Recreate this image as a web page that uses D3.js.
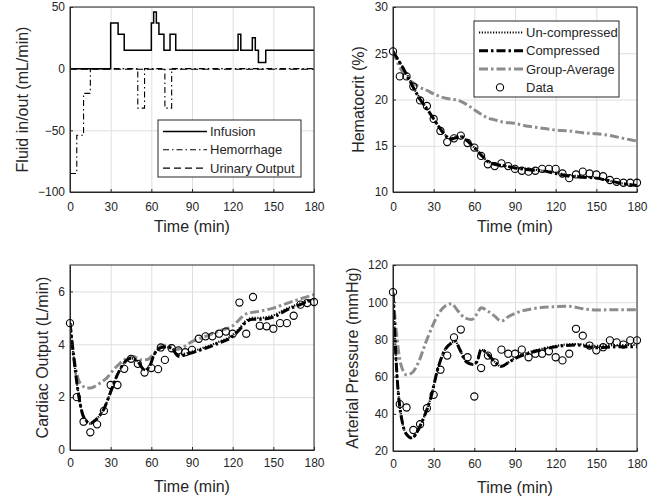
<!DOCTYPE html>
<html><head><meta charset="utf-8">
<script src="https://cdn.jsdelivr.net/npm/d3@7"></script>
<style>
body{margin:0;background:#fff}
text{font-family:"Liberation Sans",Arial,Helvetica,sans-serif;fill:#262626}
</style>
</head><body>
<svg id="c" width="670" height="504"></svg>
<script>
// ---------- DATA ----------
const timeTicks = [0,30,60,90,120,150,180];

// Panel 1: fluid in/out (step functions)
const infusionT = [0,30,35.5,40,60,61.7,63.7,65.6,69.3,73.8,78,124,126,134.5,136.7,139,144.4,180];
const infusionV = [0,37,28,15,37,46,37,28,15,28,15,28,15,25,15,5,15,15];
const hemorrhageT = [0,5,10,15,50,55,70,75,180];
const hemorrhageV = [-85,-54,-20,0,-32,0,-32,0,0];
const urineT = [0,180];
const urineV = [-0.5,-0.5];

// Panel 2: hematocrit
const hctDataT = [0,5,10,15,20,25,30,35,40,45,50,55,60,65,70,75,80,85,90,95,100,105,110,115,120,125,130,135,140,145,150,155,160,165,170,175,180];
const hctData  = [25.2,22.5,22.5,21.4,19.9,19.3,17.9,16.6,15.4,15.8,16.1,15.3,14.8,13.9,13.0,12.8,13.1,12.8,12.5,12.3,12.2,12.3,12.5,12.5,12.5,12.0,11.5,11.9,12.2,12.0,11.9,11.7,11.3,11.1,11.0,11.0,11.0];
const hctModelT = [0,5,10,15,20,25,30,35,40,42,45,50,55,60,65,70,75,80,90,100,110,120,130,140,150,160,170,180];
const hctCompressed   = [25.2,24.0,22.7,21.3,20.0,19.0,17.9,16.8,15.9,15.7,15.8,16.0,15.5,14.8,14.0,13.3,13.0,12.9,12.6,12.4,12.3,12.0,11.7,11.6,11.5,11.2,10.9,10.7];
const hctUncompressed = [25.2,24.0,22.8,21.3,20.1,19.0,17.9,16.8,16.0,15.8,15.9,16.0,15.5,14.8,14.0,13.3,13.0,12.9,12.6,12.5,12.3,12.1,11.8,11.7,11.5,11.2,10.9,10.7];
const hctGroupT = [0,5,10,15,20,25,30,35,40,45,50,55,60,65,70,75,80,90,100,110,120,130,140,150,160,170,180];
const hctGroup  = [25.2,23.5,22.4,21.8,21.3,21.0,20.6,20.3,20.1,20.0,19.8,19.4,18.9,18.4,18.0,17.8,17.6,17.4,17.1,16.9,16.7,16.6,16.4,16.3,16.1,15.8,15.5];

// Panel 3: cardiac output
const coDataT = [0,5,10,15,20,25,30,35,40,45,50,55,60,65,67,70,75,80,85,90,95,100,105,110,115,120,125,130,135,140,145,150,155,160,165,170,175,180];
const coData  = [4.8,2.0,1.07,0.67,0.97,1.48,2.46,2.46,3.07,3.45,3.26,2.93,3.1,3.06,3.88,3.41,3.85,3.77,3.7,3.79,4.21,4.3,4.3,4.4,4.48,4.4,5.58,4.4,5.79,4.7,4.68,4.59,4.8,4.8,5.08,5.5,5.56,5.6];
const coModelT = [0,3,6,9,12,15,18,21,25,30,35,40,45,50,55,58,62,66,70,75,80,85,90,100,110,120,125,130,135,140,150,160,170,180];
const coCompressed   = [4.8,3.4,2.2,1.4,1.1,1.0,1.1,1.25,1.55,2.2,2.85,3.3,3.47,3.35,3.03,3.1,3.6,3.85,3.9,3.85,3.55,3.6,3.68,3.85,4.05,4.3,4.55,4.85,4.95,4.95,5.03,5.3,5.5,5.7];
const coUncompressed = [4.8,3.4,2.2,1.4,1.1,1.0,1.1,1.25,1.55,2.2,2.85,3.3,3.47,3.35,3.03,3.1,3.6,3.85,3.9,3.85,3.6,3.65,3.72,3.9,4.1,4.35,4.6,4.9,5.0,5.0,5.1,5.35,5.55,5.7];
const coGroupT = [0,3,6,9,12,15,18,22,27,32,37,42,47,52,57,62,67,72,77,82,90,100,110,120,130,140,150,160,170,180];
const coGroup  = [4.8,3.5,2.7,2.45,2.35,2.35,2.4,2.53,2.72,3.03,3.29,3.47,3.54,3.41,3.42,3.66,3.92,3.98,3.79,3.85,4.1,4.3,4.5,4.7,5.15,5.25,5.37,5.55,5.72,5.88];

// Panel 4: arterial pressure
const apDataT = [0,5,10,15,20,25,30,35,40,45,50,55,60,65,70,75,80,85,90,95,100,105,110,115,120,125,130,135,140,145,150,155,160,165,170,175,180];
const apData  = [105.4,45.2,43.4,31.3,34.4,43.0,50.2,63.7,71.3,81.1,85.3,70.4,49.3,64.6,71.3,67.7,74.5,72.3,72.3,74.5,70.4,72.3,72.3,73.6,70.4,68.7,72.3,85.7,82.0,76.7,74.1,75.8,79.5,78.4,77.2,79.5,79.5];
const apModelT = [0,3,7,10,14,18,23,28,33,38,43,46,49,54,59,62,65,70,75,80,85,91,100,110,120,135,150,165,180];
const apCompressed   = [105,60,35,29,27,30.5,38.5,49,64,74,78,79,75,68,66.5,68,74.5,72,68,65.5,67.5,70,72.5,74.5,76,77,75.5,76,76];
const apUncompressed = [105,60,35,29,27,30.5,38.5,49,64,74,78,79,75,68,66.5,68,74.5,72,68,65.5,67.5,70.5,73,75,76.5,77.5,76.5,77,77];
const apGroupT = [0,3,6,10,14,19,24,29,34,39,43,48,53,58,62,65,70,75,80,85,91,103,118,130,140,150,165,180];
const apGroup  = [105,80,66,61,62,68,78,87,94.3,98.2,99.2,95.2,91.6,90.7,93.7,97,95.2,92.5,89.8,92.2,94.3,96.5,97.5,97.8,96.5,95.8,96,96];

// ---------- DRAW ----------
const svg = d3.select("#c");
const AX = "#262626", GRID = "#dedede", GRAY = "#8c8c8c";
const fmt = d3.format("d");

function panel(o){
  const xs = d3.scaleLinear().domain([0,180]).range([o.x0,o.x1]);
  const ys = d3.scaleLinear().domain(o.yDomain).range([o.y1,o.y0]);
  const g = svg.append("g");
  // grid
  g.append("g").attr("transform",`translate(0,${o.y1})`)
    .call(d3.axisBottom(xs).tickValues(timeTicks).tickSize(-(o.y1-o.y0)).tickFormat(""))
    .call(s=>{s.select(".domain").remove(); s.selectAll("line").attr("stroke",GRID);});
  g.append("g").attr("transform",`translate(${o.x0},0)`)
    .call(d3.axisLeft(ys).tickValues(o.yTicks).tickSize(-(o.x1-o.x0)).tickFormat(""))
    .call(s=>{s.select(".domain").remove(); s.selectAll("line").attr("stroke",GRID);});
  const id = "clip"+o.id;
  svg.append("clipPath").attr("id",id).append("rect")
    .attr("x",o.x0).attr("y",o.y0).attr("width",o.x1-o.x0).attr("height",o.y1-o.y0);
  const plot = g.append("g").attr("clip-path",`url(#${id})`);
  const top = g.append("g");
  // axes
  const xa = top.append("g").attr("transform",`translate(0,${o.y1})`)
    .call(d3.axisBottom(xs).tickValues(timeTicks).tickFormat(fmt).tickSizeInner(-3).tickSizeOuter(0).tickPadding(o.xPad));
  const ya = top.append("g").attr("transform",`translate(${o.x0},0)`)
    .call(d3.axisLeft(ys).tickValues(o.yTicks).tickFormat(fmt).tickSizeInner(-3).tickSizeOuter(0).tickPadding(5));
  [xa,ya].forEach(a=>{a.selectAll("text").style("font-size","12px").attr("fill",AX);
    a.selectAll("line,path").attr("stroke",AX);});
  // box
  top.append("rect").attr("x",o.x0).attr("y",o.y0).attr("width",o.x1-o.x0).attr("height",o.y1-o.y0)
    .attr("fill","none").attr("stroke",AX).attr("stroke-width",1);
  top.append("text").attr("x",(o.x0+o.x1)/2).attr("y",o.y1+o.titleY).attr("text-anchor","middle")
    .style("font-size","16px").text("Time (min)");
  top.append("text").attr("transform",`translate(${o.x0-o.ylabOff},${(o.y0+o.y1)/2}) rotate(-90)`)
    .attr("text-anchor","middle").attr("dy","0.35em").style("font-size","16px").text(o.ylabel);
  return {xs,ys,plot,top};
}

function drawLine(p, T, V, style, curve){
  const data = T.map((t,i)=>[t,V[i]]);
  const line = d3.line().x(d=>p.xs(d[0])).y(d=>p.ys(d[1])).curve(curve||d3.curveMonotoneX);
  p.plot.append("path").datum(data).attr("d",line).attr("fill","none")
    .attr("stroke",style.color).attr("stroke-width",style.w)
    .attr("stroke-dasharray",style.dash||null).attr("stroke-linecap",style.cap||"butt");
}
function drawPoints(p, T, V){
  p.top.append("g").selectAll("circle").data(T.map((t,i)=>[t,V[i]])).join("circle")
    .attr("cx",d=>p.xs(d[0])).attr("cy",d=>p.ys(d[1])).attr("r",3.6)
    .attr("fill","none").attr("stroke","#000").attr("stroke-width",1.1);
}

const sUn   = {color:"#000", w:2.2, dash:"1.2,1.6"};
const sComp = {color:"#000", w:3, dash:"9,3,2.5,3"};
const sGrp  = {color:GRAY, w:3, dash:"9,3,2.5,3"};
const sInf  = {color:"#000", w:1.5};
const sHem  = {color:"#000", w:1.1, dash:"6,3,1.5,3"};
const sUri  = {color:"#000", w:1.1, dash:"7,4"};

// Panel 1
const p1 = panel({id:1,x0:70,x1:314,y0:7,y1:192,yDomain:[-100,50],yTicks:[-100,-50,0,50],
  ylabel:"Fluid in/out (mL/min)",ylabOff:48,xPad:10,titleY:40});
drawLine(p1, urineT, urineV, sUri, d3.curveStepAfter);
drawLine(p1, hemorrhageT, hemorrhageV, sHem, d3.curveStepAfter);
drawLine(p1, infusionT, infusionV, sInf, d3.curveStepAfter);

// Panel 2
const p2 = panel({id:2,x0:393,x1:637,y0:7,y1:192,yDomain:[10,30],yTicks:[10,15,20,25,30],
  ylabel:"Hematocrit (%)",ylabOff:35,xPad:10,titleY:40});
drawLine(p2, hctGroupT, hctGroup, sGrp);
drawLine(p2, hctModelT, hctCompressed, sComp);
drawLine(p2, hctModelT, hctUncompressed, sUn);
drawPoints(p2, hctDataT, hctData);

// Panel 3
const p3 = panel({id:3,x0:70,x1:314,y0:265,y1:450,yDomain:[0,7],yTicks:[0,2,4,6],
  ylabel:"Cardiac Output (L/min)",ylabOff:28,xPad:8,titleY:42});
drawLine(p3, coGroupT, coGroup, sGrp);
drawLine(p3, coModelT, coCompressed, sComp);
drawLine(p3, coModelT, coUncompressed, sUn);
drawPoints(p3, coDataT, coData);

// Panel 4
const p4 = panel({id:4,x0:393,x1:637,y0:265,y1:451,yDomain:[20,120],yTicks:[20,40,60,80,100,120],
  ylabel:"Arterial Pressure (mmHg)",ylabOff:41,xPad:8,titleY:42});
drawLine(p4, apGroupT, apGroup, sGrp);
drawLine(p4, apModelT, apCompressed, sComp);
drawLine(p4, apModelT, apUncompressed, sUn);
drawPoints(p4, apDataT, apData);

// Legends
function legend(x,y,w,h,items){
  const g = svg.append("g");
  g.append("rect").attr("x",x).attr("y",y).attr("width",w).attr("height",h)
    .attr("fill","#fff").attr("stroke",AX).attr("stroke-width",1);
  items.forEach((it,i)=>{
    const cy = y+11.5+i*18.3;
    if(it.marker){
      g.append("circle").attr("cx",x+26).attr("cy",cy).attr("r",3.6).attr("fill","none")
        .attr("stroke","#000").attr("stroke-width",1.1);
    } else {
      g.append("line").attr("x1",x+5).attr("x2",x+49).attr("y1",cy).attr("y2",cy)
        .attr("stroke",it.s.color).attr("stroke-width",it.s.w).attr("stroke-dasharray",it.s.dash||null);
    }
    g.append("text").attr("x",x+52).attr("y",cy).attr("dy","0.35em").style("font-size","13px").text(it.label);
  });
}
legend(158,120,143,57,[{s:sInf,label:"Infusion"},{s:sHem,label:"Hemorrhage"},{s:sUri,label:"Urinary Output"}]);
legend(474,21,145,76,[{s:sUn,label:"Un-compressed"},{s:sComp,label:"Compressed"},{s:sGrp,label:"Group-Average"},{marker:true,label:"Data"}]);
</script>
</body></html>
